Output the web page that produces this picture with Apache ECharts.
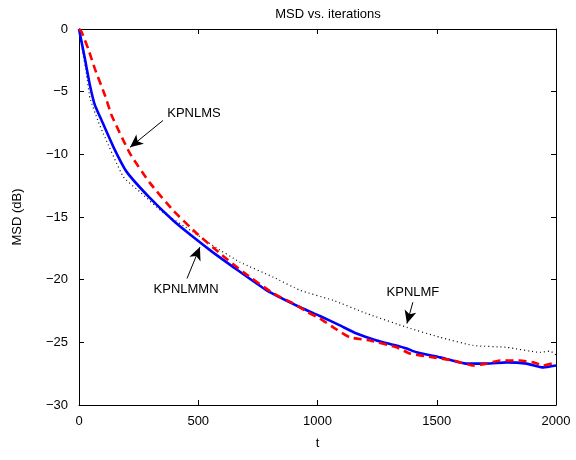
<!DOCTYPE html>
<html>
<head>
<meta charset="utf-8">
<script src="https://cdn.jsdelivr.net/npm/echarts@6/dist/echarts.min.js"></script>
<style>html,body{margin:0;padding:0;background:#fff}#c{width:576px;height:460px}</style>
</head>
<body>
<div id="c"></div>
<script>
// KPNLMMN (blue, solid)
const blueT = [0, 25, 46, 67, 88, 144, 200, 298, 396, 479, 560, 647, 787, 927, 1010, 1094, 1164, 1248, 1318, 1374, 1416, 1514, 1626, 1709, 1793, 1877, 1947, 2000];
const blueV = [0, -2.4, -4.5, -6.1, -7.0, -9.4, -11.4, -13.5, -15.3, -16.6, -17.8, -19.0, -20.85, -22.2, -22.9, -23.65, -24.3, -24.85, -25.2, -25.5, -25.8, -26.2, -26.7, -26.7, -26.6, -26.7, -27.0, -26.85];
// KPNLMS (red, dashed)
const redT = [0, 11, 39, 67, 109, 137, 214, 298, 396, 493, 591, 689, 815, 899, 960, 1010, 1066, 1136, 1220, 1332, 1388, 1486, 1570, 1653, 1709, 1765, 1849, 1905, 1947, 2000];
const redV = [0, -0.24, -1.6, -3.2, -5.3, -6.9, -9.95, -12.3, -14.5, -16.3, -17.9, -19.4, -21.1, -21.9, -22.6, -23.1, -23.8, -24.6, -24.85, -25.4, -25.9, -26.2, -26.45, -26.85, -26.7, -26.45, -26.45, -26.6, -26.85, -26.6];
// KPNLMF (black, dotted)
const blackT = [0, 11, 32, 46, 81, 102, 186, 256, 350, 479, 563, 675, 815, 927, 1066, 1206, 1374, 1514, 1653, 1793, 1933, 1975, 2000];
const blackV = [0, -1.3, -3.7, -5.5, -7.4, -8.35, -11.8, -13.0, -14.6, -16.2, -17.3, -18.6, -19.8, -20.85, -21.65, -22.7, -23.8, -24.6, -25.25, -25.4, -25.8, -25.7, -26.0];

const xTicks = [0, 500, 1000, 1500, 2000];
const yTicks = [-30, -25, -20, -15, -10, -5, 0];

// annotations: [label, textT, textV, tailT, tailV, headT, headV]
const annotations = [
  ['KPNLMS', 482, -6.73, 352, -7.3, 214, -9.44],
  ['KPNLMMN', 449, -20.77, 453, -19.9, 507, -17.4],
  ['KPNLMF', 1400, -21.0, 1400, -21.8, 1375, -23.5]
];

const pairs = (t, v) => t.map((x, i) => [x, v[i]]);
const FONT = 'Liberation Sans, Arial, Helvetica, sans-serif';
const chart = echarts.init(document.getElementById('c'), null, {renderer: 'canvas'});

const axisCommon = {
  axisLine: {show: true, onZero: false, lineStyle: {color: '#000', width: 1}},
  axisTick: {show: true, inside: true, length: 5, lineStyle: {color: '#000'}},
  splitLine: {show: false}
};

chart.setOption({
  animation: false,
  backgroundColor: '#fff',
  title: {
    text: 'MSD vs. iterations', left: 323, top: 3, textAlign: 'center',
    textStyle: {fontFamily: FONT, fontSize: 13, fontWeight: 'normal', color: '#000'}
  },
  grid: {left: 79, right: 20, top: 29, bottom: 55},
  xAxis: [
    Object.assign({}, axisCommon, {
      type: 'value', min: xTicks[0], max: xTicks[xTicks.length - 1], interval: 500, position: 'bottom',
      name: 't', nameLocation: 'middle', nameGap: 32,
      nameTextStyle: {fontFamily: FONT, fontSize: 13, color: '#000'},
      axisLabel: {fontFamily: FONT, fontSize: 13, color: '#000', margin: 10, formatter: v => String(v)}
    }),
    Object.assign({}, axisCommon, {
      type: 'value', min: xTicks[0], max: xTicks[xTicks.length - 1], interval: 500, position: 'top',
      axisLabel: {show: false}
    })
  ],
  yAxis: [
    Object.assign({}, axisCommon, {
      type: 'value', min: yTicks[0], max: yTicks[yTicks.length - 1], interval: 5, position: 'left',
      name: 'MSD (dB)', nameLocation: 'middle', nameGap: 55,
      nameTextStyle: {fontFamily: FONT, fontSize: 13, color: '#000'},
      axisLabel: {fontFamily: FONT, fontSize: 13, color: '#000', margin: 11,
        formatter: v => String(v).replace('-', '\u2212')}
    }),
    Object.assign({}, axisCommon, {
      type: 'value', min: yTicks[0], max: yTicks[yTicks.length - 1], interval: 5, position: 'right',
      axisLabel: {show: false}
    })
  ],
  series: [
    {
      name: 'KPNLMF', type: 'line', data: pairs(blackT, blackV), showSymbol: false, smooth: 0.15,
      lineStyle: {color: '#000', width: 1.2, type: [1, 3]}, z: 1
    },
    {
      name: 'KPNLMMN', type: 'line', data: pairs(blueT, blueV), showSymbol: false, smooth: 0.15,
      lineStyle: {color: '#0000ff', width: 2.6}, z: 2
    },
    {
      name: 'KPNLMS', type: 'line', data: pairs(redT, redV), showSymbol: false, smooth: 0.15,
      lineStyle: {color: '#ff0000', width: 2.6, type: [8, 5]}, z: 3
    },
    {
      name: 'arrows', type: 'line', data: [], showSymbol: false,
      markLine: {
        silent: true, animation: false,
        symbol: ['none', 'arrow'], symbolSize: [9, 13],
        lineStyle: {color: '#000', width: 1, type: 'solid'},
        label: {show: false},
        data: annotations.map(a => [{coord: [a[3], a[4]]}, {coord: [a[5], a[6]]}])
      }
    }
  ]
});

function drawLabels() {
  const g = annotations.map(a => {
    const p = chart.convertToPixel({xAxisIndex: 0, yAxisIndex: 0}, [a[1], a[2]]);
    return {
      type: 'text', x: p[0], y: p[1], silent: true,
      style: {text: a[0], fill: '#000', font: '13px ' + FONT, align: 'center', verticalAlign: 'middle'}
    };
  });
  chart.setOption({graphic: g});
}
drawLabels();
</script>
</body>
</html>
